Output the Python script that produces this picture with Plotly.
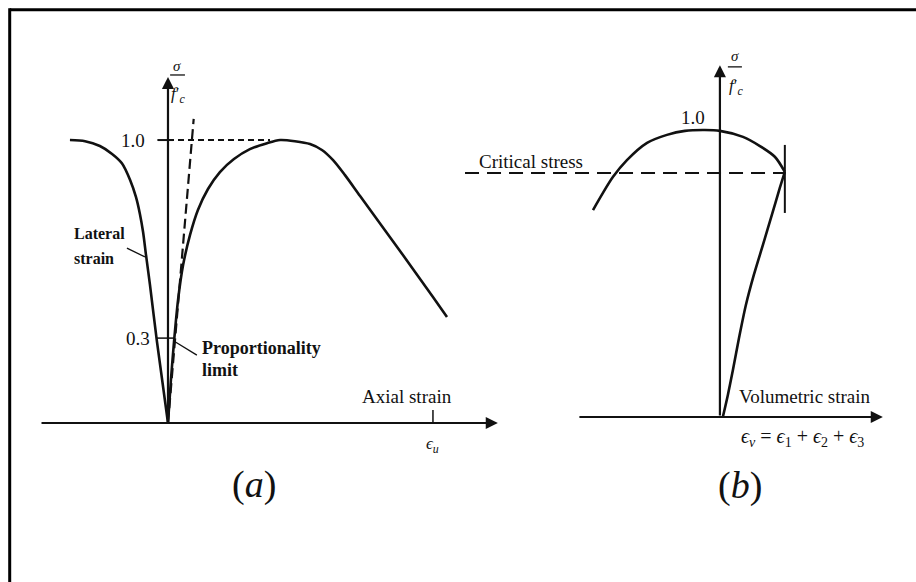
import plotly.graph_objects as go

# ---------------- Panel (a): stress vs axial / lateral strain ----------------
axial_strain = [0, 0.011, 0.023, 0.038, 0.057, 0.083, 0.113, 0.151, 0.196, 0.249, 0.309, 0.374, 0.423,
                0.479, 0.536, 0.581, 0.623, 0.668, 0.725, 0.875, 1.0, 1.053]
axial_stress = [0, 0.152, 0.29, 0.435, 0.558, 0.664, 0.753, 0.827, 0.887, 0.933, 0.968, 0.989, 1.0,
                0.996, 0.986, 0.965, 0.929, 0.876, 0.802, 0.609, 0.445, 0.375]

lateral_strain = [-0.370, -0.313, -0.257, -0.211, -0.174, -0.143, -0.121, -0.106, -0.094, -0.083, -0.068, -0.042, 0]
lateral_stress = [1.0, 0.996, 0.979, 0.951, 0.918, 0.859, 0.799, 0.739, 0.675, 0.594, 0.488, 0.29, 0]

tangent_strain = [0, 0.097]
tangent_stress = [0, 1.075]

peak_stress = 1.0
prop_limit = 0.3
eps_u = 1.0

# ---------------- Panel (b): stress vs volumetric strain ----------------
vol_arch_strain = [-0.479, -0.442, -0.404, -0.351, -0.275, -0.2, -0.132, -0.057, 0, 0.087, 0.151, 0.208, 0.245]
vol_arch_stress = [0.721, 0.780, 0.836, 0.895, 0.955, 0.983, 0.997, 1.0, 0.997, 0.976, 0.944, 0.906, 0.854]
vol_branch_strain = [0.245, 0.226, 0.196, 0.162, 0.128, 0.098, 0.072, 0.049, 0.030, 0.011]
vol_branch_stress = [0.854, 0.798, 0.704, 0.599, 0.495, 0.390, 0.275, 0.164, 0.077, 0]
critical_stress = 0.85

INK = "#111111"
FONT = "Liberation Serif"

fig = go.Figure()

def line(x, y, ax="a", width=2.6, dash=None, shape="spline"):
    xa, ya = ("x", "y") if ax == "a" else ("x2", "y2")
    fig.add_trace(go.Scatter(x=x, y=y, mode="lines", xaxis=xa, yaxis=ya,
                             line=dict(color=INK, width=width, dash=dash, shape=shape, smoothing=0.8),
                             hoverinfo="skip", showlegend=False))

# panel (a) curves
line(axial_strain, axial_stress)
line(lateral_strain, lateral_stress)
line(tangent_strain, tangent_stress, width=2.2, dash="10px,5px", shape="linear")
line([0, 0.385], [peak_stress, peak_stress], width=2, dash="6px,4px", shape="linear")
line([-0.04, 0.02], [peak_stress, peak_stress], width=2, shape="linear")
line([-0.042, 0.022], [prop_limit, prop_limit], width=1.5, shape="linear")
line([0.022, 0.109], [0.29, 0.24], width=1.3, shape="linear")
line([-0.155, -0.087], [0.618, 0.587], width=1.3, shape="linear")
line([eps_u, eps_u], [0, 0.046], width=1.5, shape="linear")

# panel (b) curves
line(vol_arch_strain, vol_arch_stress, ax="b")
line(vol_branch_strain, vol_branch_stress, ax="b")
line([-0.962, 0.245], [critical_stress, critical_stress], ax="b", width=2, dash="14px,8px", shape="linear")
line([0.245, 0.245], [0.711, 0.948], ax="b", width=2, shape="linear")

ann = []

def arrow(x, y, x0, y0, ax="a"):
    xa, ya = ("x", "y") if ax == "a" else ("x2", "y2")
    ann.append(dict(x=x, y=y, ax=x0, ay=y0, xref=xa, yref=ya, axref=xa, ayref=ya,
                    showarrow=True, arrowhead=2, arrowsize=1.1, arrowwidth=2.2,
                    arrowcolor=INK, text=""))

def txt(x, y, s, ax="a", size=19, xanchor="center", yanchor="middle"):
    xa, ya = ("x", "y") if ax == "a" else ("x2", "y2")
    ann.append(dict(x=x, y=y, xref=xa, yref=ya, text=s, showarrow=False,
                    xanchor=xanchor, yanchor=yanchor,
                    font=dict(family=FONT, size=size, color=INK)))

# axes of panel (a)
arrow(1.245, 0, -0.483, 0)
arrow(0, 1.223, 0, 0)
# axes of panel (b)
arrow(0.615, 0, -0.536, 0, ax="b")
arrow(0, 1.226, 0, 0, ax="b")

# labels panel (a)
txt(0.034, 1.262, "<i>σ</i>", size=15)
line([0.008, 0.064], [1.230, 1.230], width=1.3, shape="linear")
txt(0.038, 1.160, "<i>f</i>′<sub><i>c</i></sub>", size=17)
txt(-0.079, peak_stress, "1.0", size=19, xanchor="right")
txt(-0.06, prop_limit, "0.3", size=19, xanchor="right")
txt(0.121, 0.265, "<b>Proportionality</b>", size=18, xanchor="left")
txt(0.121, 0.187, "<b>limit</b>", size=18, xanchor="left")
txt(-0.364, 0.671, "<b>Lateral</b>", size=16, xanchor="left")
txt(-0.364, 0.583, "<b>strain</b>", size=16, xanchor="left")
txt(0.902, 0.092, "Axial strain")
txt(1.0, -0.078, "<i>ϵ</i><sub><i>u</i></sub>", size=17)
txt(0.325, -0.219, "(<i>a</i>)", size=38)

# labels panel (b)
txt(0.057, 1.258, "<i>σ</i>", ax="b", size=15)
line([0.030, 0.083], [1.220, 1.220], ax="b", width=1.3, shape="linear")
txt(0.060, 1.150, "<i>f</i>′<sub><i>c</i></sub>", ax="b", size=17)
txt(-0.102, 1.045, "1.0", ax="b", size=19)
txt(-0.917, 0.889, "Critical stress", ax="b", xanchor="left")
txt(0.066, 0.072, "Volumetric strain", ax="b", size=19, xanchor="left")
txt(0.072, -0.073, "<i>ϵ</i><sub><i>v</i></sub> = <i>ϵ</i><sub>1</sub> + <i>ϵ</i><sub>2</sub> + <i>ϵ</i><sub>3</sub>",
    ax="b", size=20, xanchor="left")
txt(0.076, -0.237, "(<i>b</i>)", ax="b", size=38)

# frame
shapes = [
    dict(type="line", xref="paper", yref="paper", x0=9.7/916, x1=1.0, y0=1-9.7/582, y1=1-9.7/582,
         line=dict(color="black", width=3)),
    dict(type="line", xref="paper", yref="paper", x0=9.7/916, x1=9.7/916, y0=0, y1=1-8.2/582,
         line=dict(color="black", width=3)),
]

fig.update_layout(
    width=916, height=582,
    margin=dict(l=0, r=0, t=0, b=0),
    paper_bgcolor="white", plot_bgcolor="white",
    showlegend=False, hovermode=False,
    annotations=ann, shapes=shapes,
    xaxis=dict(range=[-0.634, 2.823], visible=False, domain=[0, 1], fixedrange=True),
    yaxis=dict(range=[-0.562, 1.495], visible=False, domain=[0, 1], fixedrange=True),
    xaxis2=dict(range=[-2.717, 0.74], visible=False, overlaying="x", fixedrange=True),
    yaxis2=dict(range=[-0.575, 1.453], visible=False, overlaying="y", fixedrange=True),
)

fig.write_html("out.html")
